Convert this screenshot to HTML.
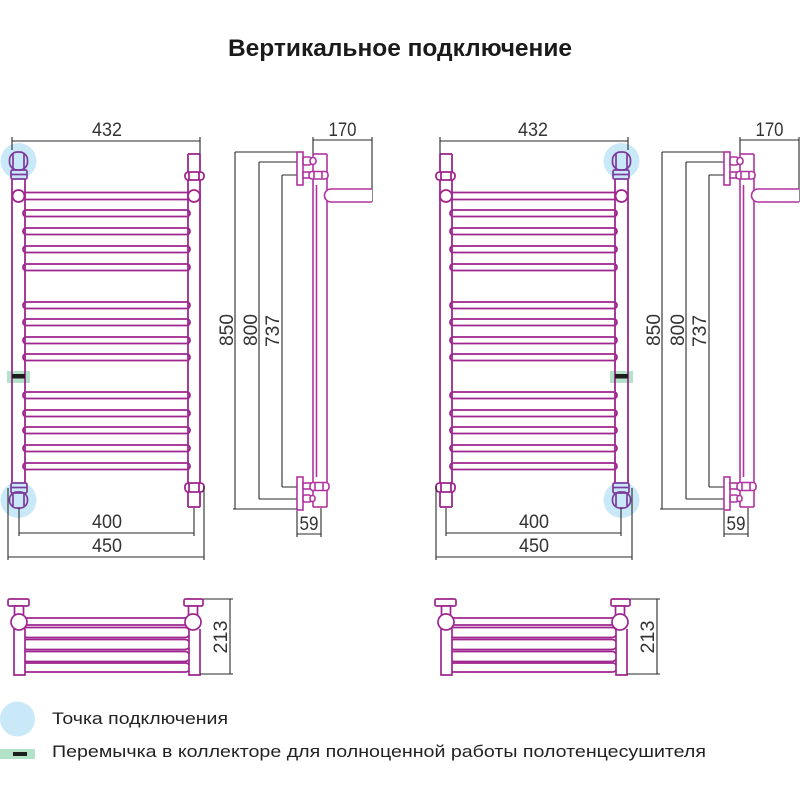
<!DOCTYPE html>
<html>
<head>
<meta charset="utf-8">
<style>
html,body{margin:0;padding:0;background:#fff;}
svg{display:block;}
text{font-family:"Liberation Sans","DejaVu Sans",sans-serif;}
</style>
</head>
<body>
<svg width="800" height="800" viewBox="0 0 800 800" xmlns="http://www.w3.org/2000/svg">
<rect width="800" height="800" fill="#fff"/>

<defs>
<g id="front">
  <circle cx="18.5" cy="161" r="18" fill="#c9e9f8"/>
  <circle cx="18.5" cy="500" r="18" fill="#c9e9f8"/>
  <rect x="7" y="371" width="23" height="12" fill="#b2e2c8"/>
  <g fill="none" stroke="#9e268e" stroke-width="1.8">
    <line x1="12" y1="179" x2="12" y2="483"/>
    <line x1="25" y1="179" x2="25" y2="483"/>
    <line x1="188" y1="154" x2="188" y2="507"/>
    <line x1="200" y1="154" x2="200" y2="507"/>
    <line x1="188" y1="154" x2="200" y2="154"/>
    <line x1="188" y1="507" x2="200" y2="507"/>
    <line x1="25" y1="192.5" x2="188" y2="192.5"/>
    <line x1="25" y1="199.5" x2="188" y2="199.5"/>
    <rect x="23" y="210" width="167" height="6.5" rx="3.2"/>
    <rect x="23" y="228" width="167" height="6.5" rx="3.2"/>
    <rect x="23" y="246" width="167" height="6.5" rx="3.2"/>
    <rect x="23" y="264" width="167" height="6.5" rx="3.2"/>
    <rect x="23" y="302" width="167" height="6.5" rx="3.2"/>
    <rect x="23" y="319" width="167" height="6.5" rx="3.2"/>
    <rect x="23" y="337" width="167" height="6.5" rx="3.2"/>
    <rect x="23" y="354" width="167" height="6.5" rx="3.2"/>
    <rect x="23" y="392" width="167" height="6.5" rx="3.2"/>
    <rect x="23" y="410" width="167" height="6.5" rx="3.2"/>
    <rect x="23" y="427" width="167" height="6.5" rx="3.2"/>
    <rect x="23" y="445" width="167" height="6.5" rx="3.2"/>
    <rect x="23" y="463" width="167" height="6.5" rx="3.2"/>
    <circle cx="18.5" cy="196" r="6" fill="#fff"/>
    <circle cx="194" cy="196" r="6" fill="#fff"/>
    <rect x="185" y="172" width="19" height="8" rx="3.5" fill="#fff"/>
    <line x1="189" y1="172" x2="189" y2="180"/>
    <line x1="199" y1="172" x2="199" y2="180"/>
    <rect x="185" y="483" width="19" height="9" rx="3.5" fill="#fff"/>
    <line x1="189" y1="483" x2="189" y2="492"/>
    <line x1="199" y1="483" x2="199" y2="492"/>
  </g>
  <g fill="none" stroke="#7d3a9e" stroke-width="1.7">
    <rect x="9.5" y="152" width="18" height="18" rx="8"/>
    <line x1="13" y1="154" x2="13" y2="170"/>
    <line x1="24" y1="154" x2="24" y2="170"/>
    <rect x="11" y="170" width="16" height="9" rx="1.5"/>
    <line x1="11" y1="174.5" x2="27" y2="174.5"/>
    <rect x="11" y="483" width="16" height="10" rx="1.5"/>
    <line x1="11" y1="487.5" x2="27" y2="487.5"/>
    <rect x="9.5" y="492" width="18" height="16" rx="7.5"/>
    <line x1="13" y1="493" x2="13" y2="506"/>
    <line x1="24" y1="493" x2="24" y2="506"/>
  </g>
  <rect x="12" y="374" width="13" height="4.5" fill="#1e1e1e"/>
  <g fill="none" stroke="#2a2a2a" stroke-width="1.1">
    <line x1="12" y1="141" x2="200" y2="141"/>
    <line x1="12" y1="137" x2="12" y2="150"/>
    <line x1="200" y1="137" x2="200" y2="154"/>
    <line x1="19" y1="533" x2="194" y2="533"/>
    <line x1="19" y1="508" x2="19" y2="536"/>
    <line x1="194" y1="508" x2="194" y2="536"/>
    <line x1="8" y1="557" x2="204" y2="557"/>
    <line x1="8" y1="488" x2="8" y2="560"/>
    <line x1="204" y1="486" x2="204" y2="560"/>
  </g>
</g>

<g id="side">
  <g fill="none" stroke="#2a2a2a" stroke-width="1.1">
    <path d="M235,152 H297 M235,152 V509 M233,509 H297"/>
    <path d="M259,162 H297 M259,162 V499 M259,499 H297"/>
    <path d="M282,175 H297 M282,175 V487 M282,487 H297"/>
    <path d="M313,140 H372 M313,137 V154 M372,137 V202"/>
    <path d="M297,511 V537 M321,508 V537 M297,534 H321"/>
  </g>
  <g fill="#fff" stroke="#b0339f" stroke-width="1.6">
    <line x1="313" y1="154" x2="313" y2="507"/>
    <line x1="316.5" y1="185" x2="316.5" y2="477"/>
    <line x1="327" y1="154" x2="327" y2="507"/>
    <line x1="313" y1="154" x2="327" y2="154"/>
    <line x1="313" y1="507" x2="327" y2="507"/>
    <path d="M372,189 H331 A6.5,6.5 0 0 0 331,202 H372"/>
    <rect x="297" y="152" width="6" height="33"/>
    <rect x="303" y="157" width="8" height="8" rx="2"/>
    <rect x="310" y="157.5" width="6" height="7" rx="3"/>
    <rect x="303" y="172" width="7" height="6"/>
    <rect x="309" y="171.5" width="19" height="7.5" rx="3"/>
    <line x1="314" y1="171.5" x2="314" y2="179"/>
    <line x1="322" y1="171.5" x2="322" y2="179"/>
    <rect x="297" y="477" width="6" height="33"/>
    <rect x="303" y="483" width="8" height="6"/>
    <rect x="310" y="482.5" width="19" height="8" rx="3"/>
    <line x1="315" y1="482.5" x2="315" y2="490.5"/>
    <line x1="323" y1="482.5" x2="323" y2="490.5"/>
    <rect x="303" y="495" width="8" height="7" rx="2"/>
    <rect x="310" y="495.5" width="5" height="6" rx="2.5"/>
  </g>
</g>

<g id="bottom">
  <g fill="#fff" stroke="#9e268e" stroke-width="1.7">
    <line x1="26" y1="618" x2="186" y2="618"/>
    <line x1="26" y1="625" x2="186" y2="625"/>
    <rect x="22" y="627.5" width="168" height="10" rx="5" fill="none"/>
    <rect x="22" y="639.5" width="168" height="10" rx="5" fill="none"/>
    <rect x="22" y="651.5" width="168" height="10" rx="5" fill="none"/>
    <rect x="22" y="663" width="168" height="9" rx="4.5" fill="none"/>
    <rect x="8" y="599" width="21" height="7" rx="1.5"/>
    <rect x="184" y="599" width="19" height="7" rx="1.5"/>
    <rect x="14.5" y="606" width="9" height="9"/>
    <rect x="188.5" y="606" width="9" height="9"/>
    <path d="M14,629 V675 H25 V629"/>
    <path d="M189,629 V675 H200 V629"/>
    <circle cx="19" cy="622" r="8"/>
    <circle cx="193" cy="622" r="8"/>
  </g>
  <g fill="none" stroke="#2a2a2a" stroke-width="1.1">
    <path d="M230,599 V674 M203,599 H233 M200,674 H233"/>
  </g>
</g>
</defs>

<text x="228" y="56" font-size="24" font-weight="bold" fill="#1a1a1a" textLength="344" lengthAdjust="spacingAndGlyphs">Вертикальное подключение</text>

<use href="#front"/>
<use href="#side"/>
<use href="#bottom"/>

<use href="#front" transform="matrix(-1 0 0 1 640 0)"/>
<use href="#side" transform="translate(427 0)"/>
<use href="#bottom" transform="translate(427 0)"/>

<g font-size="19" fill="#333" text-anchor="middle">
  <text x="107" y="136" textLength="30" lengthAdjust="spacingAndGlyphs">432</text>
  <text x="107" y="528" textLength="30" lengthAdjust="spacingAndGlyphs">400</text>
  <text x="107" y="552" textLength="30" lengthAdjust="spacingAndGlyphs">450</text>
  <text x="342.5" y="136" textLength="28" lengthAdjust="spacingAndGlyphs">170</text>
  <text x="309" y="530" textLength="19" lengthAdjust="spacingAndGlyphs">59</text>
  <text transform="translate(233 330) rotate(-90)" textLength="32" lengthAdjust="spacingAndGlyphs">850</text>
  <text transform="translate(257 330) rotate(-90)" textLength="32" lengthAdjust="spacingAndGlyphs">800</text>
  <text transform="translate(279 331) rotate(-90)" textLength="32" lengthAdjust="spacingAndGlyphs">737</text>
  <text transform="translate(227 637) rotate(-90)" textLength="33" lengthAdjust="spacingAndGlyphs">213</text>

  <text x="533" y="136" textLength="30" lengthAdjust="spacingAndGlyphs">432</text>
  <text x="534" y="528" textLength="30" lengthAdjust="spacingAndGlyphs">400</text>
  <text x="534" y="552" textLength="30" lengthAdjust="spacingAndGlyphs">450</text>
  <text x="769.5" y="136" textLength="28" lengthAdjust="spacingAndGlyphs">170</text>
  <text x="736" y="530" textLength="19" lengthAdjust="spacingAndGlyphs">59</text>
  <text transform="translate(660 330) rotate(-90)" textLength="32" lengthAdjust="spacingAndGlyphs">850</text>
  <text transform="translate(684 330) rotate(-90)" textLength="32" lengthAdjust="spacingAndGlyphs">800</text>
  <text transform="translate(706 331) rotate(-90)" textLength="32" lengthAdjust="spacingAndGlyphs">737</text>
  <text transform="translate(654 637) rotate(-90)" textLength="33" lengthAdjust="spacingAndGlyphs">213</text>
</g>

<circle cx="17.5" cy="719" r="17.5" fill="#c9e9f8"/>
<text x="52" y="724" font-size="17" fill="#222" textLength="176" lengthAdjust="spacingAndGlyphs">Точка подключения</text>
<rect x="0" y="749" width="35" height="10" fill="#b2e2c8"/>
<rect x="13" y="752" width="14" height="4" fill="#1e1e1e"/>
<text x="52" y="757" font-size="17" fill="#222" textLength="654" lengthAdjust="spacingAndGlyphs">Перемычка в коллекторе для полноценной работы полотенцесушителя</text>
</svg>
</body>
</html>
